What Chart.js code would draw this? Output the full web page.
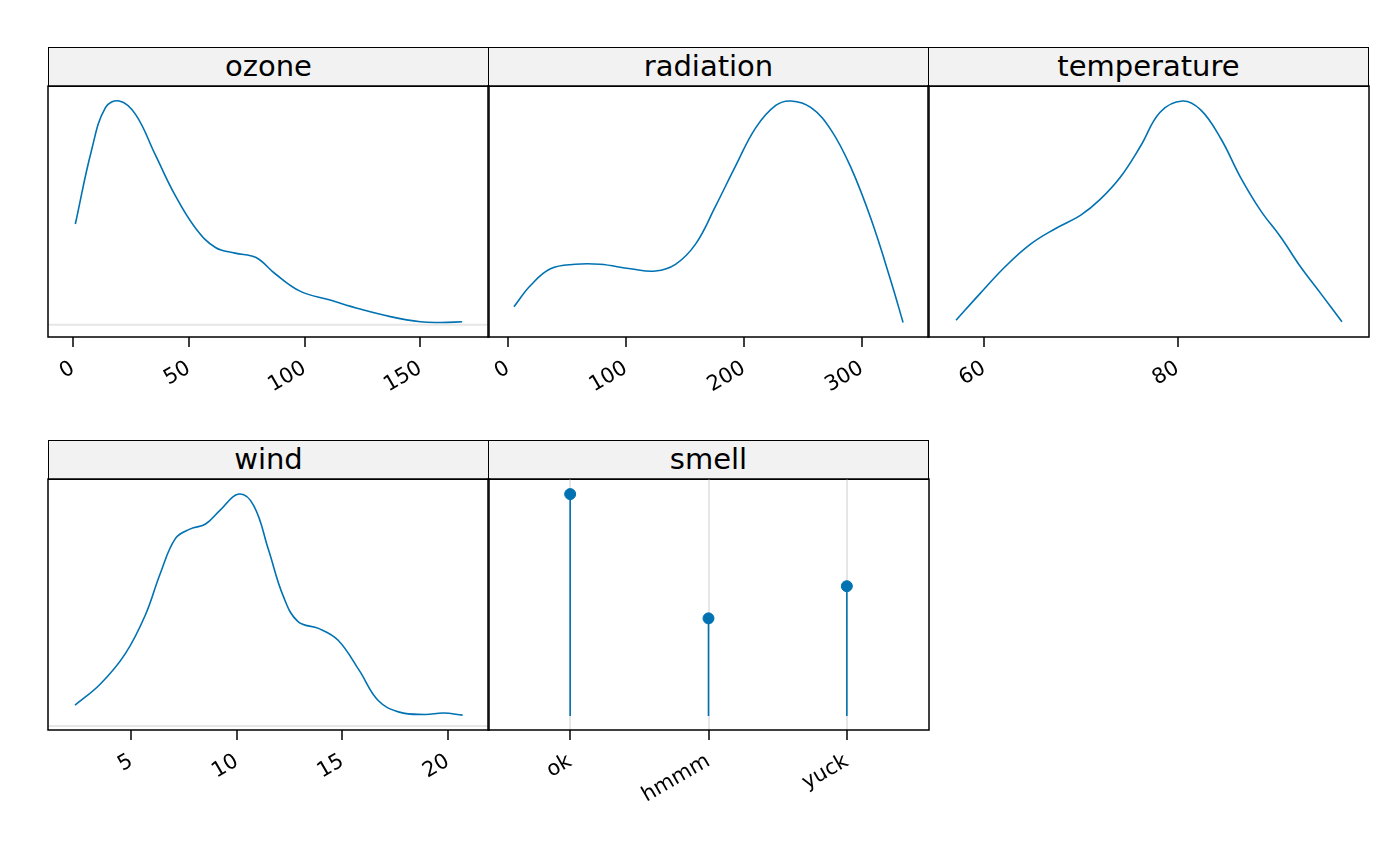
<!DOCTYPE html>
<html>
<head>
<meta charset="utf-8">
<script src="https://cdn.jsdelivr.net/npm/chart.js@4"></script>
<style>
  body { margin: 0; background: #fff; font-family: "DejaVu Sans", sans-serif; }
  #wrap { position: relative; width: 1400px; height: 866px; }
  .strip { position: absolute; box-sizing: border-box; background: #f2f2f2; border: 1.5px solid #000;
           text-align: center; font-size: 29px; line-height: 36px; color: #000; }
  .pane { position: absolute; }
</style>
</head>
<body>
<div id="wrap"></div>
<script>
// densities (relative heights)
const ozoneX = [1, 8, 14, 20, 27, 35.5, 44, 53, 61.5, 70, 79, 87, 98, 111, 124, 137, 150, 159, 168];
const ozoneY = [0.45, 0.78, 0.97, 1.0, 0.94, 0.76, 0.58, 0.43, 0.345, 0.32, 0.30, 0.23, 0.15, 0.11, 0.07, 0.036, 0.013, 0.01, 0.013];
const radX = [5, 19, 36, 57, 78, 104, 125, 142, 159, 176, 193, 210, 227, 240, 257, 274, 291, 308, 325, 335];
const radY = [0.08, 0.175, 0.25, 0.27, 0.27, 0.25, 0.24, 0.27, 0.36, 0.53, 0.71, 0.88, 0.98, 1.0, 0.97, 0.87, 0.70, 0.47, 0.19, 0.01];
const tempX = [57.1, 59.6, 62.2, 64.8, 67.4, 70, 72, 74.1, 76.2, 78.2, 80.5, 82.4, 84.5, 86.5, 88.6, 90.7, 92.7, 94.8, 97];
const tempY = [0.02, 0.14, 0.26, 0.36, 0.43, 0.49, 0.56, 0.66, 0.80, 0.95, 1.0, 0.96, 0.83, 0.66, 0.51, 0.39, 0.26, 0.14, 0.013];
const windX = [2.33, 3.52, 4.7, 5.67, 6.38, 7.1, 7.8, 8.5, 9.2, 10.1, 10.8, 11.5, 12.2, 12.9, 13.9, 14.8, 15.8, 16.7, 17.7, 18.9, 19.8, 20.7];
const windY = [0.09, 0.18, 0.31, 0.48, 0.66, 0.81, 0.85, 0.87, 0.93, 1.0, 0.95, 0.76, 0.56, 0.45, 0.42, 0.37, 0.24, 0.11, 0.06, 0.05, 0.056, 0.047];
const smellCats = ['ok', 'hmmm', 'yuck'];
const smellY = [1.0, 0.44, 0.585];

const ozoneTicks = [0, 50, 100, 150];
const radTicks = [0, 100, 200, 300];
const tempTicks = [60, 80];
const windTicks = [5, 10, 15, 20];
const smellTicks = [0, 1, 2];

const blue = '#0072B2';
const wrap = document.getElementById('wrap');

function addStrip(label, left, top) {
  const d = document.createElement('div');
  d.className = 'strip';
  d.style.left = left + 'px'; d.style.top = top + 'px';
  d.style.width = '441px'; d.style.height = '40px';
  d.textContent = label;
  wrap.appendChild(d);
}

const boxPlugin = {
  id: 'box',
  beforeDatasetsDraw(chart, args, opts) {
    const { ctx, chartArea: a, scales } = chart;
    if (opts.zero) {
      const y = scales.y.getPixelForValue(0);
      ctx.save();
      ctx.strokeStyle = '#e6e6e6'; ctx.lineWidth = 2;
      ctx.beginPath(); ctx.moveTo(a.left, y); ctx.lineTo(a.right, y); ctx.stroke();
      ctx.restore();
    }
  },
  afterDraw(chart) {
    const { ctx, chartArea: a } = chart;
    ctx.save();
    ctx.strokeStyle = '#000'; ctx.lineWidth = 1.5;
    ctx.strokeRect(a.left, a.top, a.right - a.left, a.bottom - a.top);
    ctx.restore();
  }
};

function addPanel(left, top, xmin, xmax, ymin, ymax, ticks, datasets, opts) {
  const div = document.createElement('div');
  div.className = 'pane';
  div.style.left = (left - 2) + 'px'; div.style.top = (top - 2) + 'px';
  div.style.width = '445px'; div.style.height = '347px';
  const c = document.createElement('canvas');
  div.appendChild(c);
  wrap.appendChild(div);
  new Chart(c, {
    type: 'line',
    data: { datasets },
    options: {
      responsive: true,
      maintainAspectRatio: false,
      animation: false,
      layout: { padding: { left: 2, right: 2, top: 2, bottom: 0 }, autoPadding: false },
      plugins: { legend: { display: false }, tooltip: { enabled: false }, box: { zero: opts.zero } },
      scales: {
        x: {
          type: 'linear', min: xmin, max: xmax,
          afterBuildTicks: (s) => { s.ticks = ticks.map(v => ({ value: v })); },
          border: { display: false },
          grid: { display: true, drawOnChartArea: !!opts.vgrid, color: '#e6e6e6', lineWidth: 2,
                  tickColor: '#000', tickLength: 10, tickWidth: 1.5 },
          ticks: {
            autoSkip: false, maxRotation: 30, minRotation: 30, padding: 9,
            color: '#000', font: { family: 'DejaVu Sans', size: 21 },
            callback: opts.labels ? (v) => opts.labels[v] : (v) => v
          },
          afterFit: (s) => { s.paddingLeft = 0; s.paddingRight = 0; s.height = 94; }
        },
        y: { display: false, min: ymin, max: ymax }
      }
    },
    plugins: [boxPlugin]
  });
}

function curve(xs, ys) {
  return [{ data: xs.map((x, i) => ({ x, y: ys[i] })), borderColor: blue, borderWidth: 1.6,
            pointRadius: 0, tension: 0.4, fill: false }];
}

const top1 = 86, top2 = 479;
addStrip('ozone', 48, 47); addStrip('radiation', 488, 47); addStrip('temperature', 928, 47);
addStrip('wind', 48, 440); addStrip('smell', 488, 440);

addPanel(48, top1, -10.8, 179.6, -0.055, 1.067, ozoneTicks, curve(ozoneX, ozoneY), { zero: true });
addPanel(488, top1, -17, 357, -0.055, 1.067, radTicks, curve(radX, radY), {});
addPanel(928, top1, 54.2, 99.8, -0.055, 1.067, tempTicks, curve(tempX, tempY), {});
addPanel(48, top2, 1.05, 21.95, -0.017, 1.065, windTicks, curve(windX, windY), { zero: true });

// smell: stems + dots
const stem = [];
smellY.forEach((v, i) => { stem.push({ x: i, y: 0 }, { x: i, y: v }, { x: i, y: null }); });
addPanel(488, top2, -0.594, 2.594, -0.063, 1.068, smellTicks, [
  { data: stem, borderColor: blue, borderWidth: 1.6, pointRadius: 0, spanGaps: false },
  { data: smellY.map((v, i) => ({ x: i, y: v })), showLine: false, pointRadius: 5.5,
    pointBackgroundColor: blue, pointBorderColor: blue }
], { vgrid: true, labels: smellCats });
</script>
</body>
</html>
